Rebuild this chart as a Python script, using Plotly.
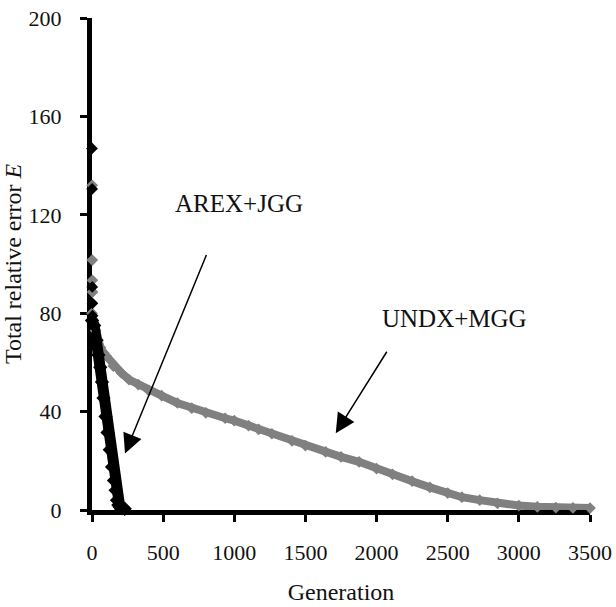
import plotly.graph_objects as go

# ---- data ----
undx_gen = [0, 10, 25, 42, 60, 80, 101, 150, 207, 260, 325, 400, 489, 600, 701, 800,
            936, 1000, 1100, 1171, 1264, 1406, 1500, 1642, 1750, 1877, 2000, 2112,
            2250, 2375, 2500, 2600, 2725, 2850, 3000, 3130, 3260, 3380, 3500]
undx_err = [80, 77, 73, 69, 66, 64, 62.5, 58.5, 55.7, 53, 51, 48.5, 46.5, 43.5, 41.4, 39.5,
            37.3, 36.3, 34.3, 32.8, 31, 28.1, 26.2, 23.6, 21.6, 19.6, 16.8, 14.5,
            11.7, 9.2, 6.9, 5.2, 4.0, 2.7, 1.8, 1.3, 1.0, 0.9, 0.8]
undx_early_gen = [1, 2, 3, 4]
undx_early_err = [132, 101.6, 93.4, 88.6]

arex_gen = [0, 15, 30, 45, 58, 70, 81, 95, 109, 125, 141, 155, 166, 176, 185, 195, 210, 230]
arex_err = [77, 75, 69, 63, 58, 52, 45.5, 38, 31.5, 24.5, 17.5, 12, 8, 4, 2, 1.2, 0.8, 0.5]
arex_early_gen = [0, 1, 2, 3, 4]
arex_early_err = [147, 130.5, 90.7, 84, 79]

x_ticks = [0, 500, 1000, 1500, 2000, 2500, 3000, 3500]
y_ticks = [0, 40, 80, 120, 160, 200]

GRAY = "#808080"
BLACK = "#000000"
FONT = "Liberation Serif, Times New Roman, serif"
TXT = "#111111"

fig = go.Figure()

fig.add_trace(go.Scatter(
    x=undx_gen, y=undx_err, mode="lines+markers",
    line=dict(color=GRAY, width=8),
    marker=dict(symbol="diamond", size=9, color=GRAY),
    cliponaxis=False, showlegend=False, name="UNDX+MGG"))
fig.add_trace(go.Scatter(
    x=undx_early_gen, y=undx_early_err, mode="markers",
    marker=dict(symbol="diamond", size=9, color=GRAY),
    cliponaxis=False, showlegend=False))

fig.add_trace(go.Scatter(
    x=arex_gen, y=arex_err, mode="lines+markers",
    line=dict(color=BLACK, width=11),
    marker=dict(symbol="diamond", size=11, color=BLACK),
    cliponaxis=False, showlegend=False, name="AREX+JGG"))
fig.add_trace(go.Scatter(
    x=arex_early_gen, y=arex_early_err, mode="markers",
    marker=dict(symbol="diamond", size=9, color=BLACK),
    cliponaxis=False, showlegend=False))

axis_common = dict(
    showgrid=False, zeroline=False, showline=True, linecolor=BLACK, linewidth=5,
    ticks="outside", ticklen=7, tickwidth=3, tickcolor=BLACK, automargin=False,
    ticklabeloverflow="allow",
    tickfont=dict(family=FONT, size=22, color=TXT), layer="below traces",
)

fig.update_layout(
    width=616, height=607,
    margin=dict(l=92, r=26, t=18, b=97),
    paper_bgcolor="white", plot_bgcolor="white",
    xaxis=dict(range=[0, 3500], tickvals=x_ticks, ticklabelstandoff=12,
               title=dict(text="Generation", font=dict(family=FONT, size=24, color=TXT), standoff=20),
               **axis_common),
    yaxis=dict(range=[0, 200], tickvals=y_ticks, ticklabelstandoff=14,
               title=dict(text="Total relative error <i>E</i>", font=dict(family=FONT, size=24, color=TXT), standoff=2),
               **axis_common),
    showlegend=False,
)

# labels
fig.add_annotation(x=1033, y=124.6, text="AREX+JGG", showarrow=False,
                   font=dict(family=FONT, size=25, color=TXT), xanchor="center", yanchor="middle")
fig.add_annotation(x=2551, y=78, text="UNDX+MGG", showarrow=False,
                   font=dict(family=FONT, size=25, color=TXT), xanchor="center", yanchor="middle")
# arrows
fig.add_annotation(x=232, y=23, ax=82, ay=-200, axref="pixel", ayref="pixel", text="",
                   showarrow=True, arrowhead=2, arrowsize=2.6, arrowwidth=1.5, arrowcolor=BLACK)
fig.add_annotation(x=1713, y=31.2, ax=52, ay=-83, axref="pixel", ayref="pixel", text="",
                   showarrow=True, arrowhead=2, arrowsize=2.6, arrowwidth=1.5, arrowcolor=BLACK)

fig.write_html("out.html", config={"displayModeBar": False},
               post_script="document.body.style.margin='0';document.body.style.overflow='hidden';")
